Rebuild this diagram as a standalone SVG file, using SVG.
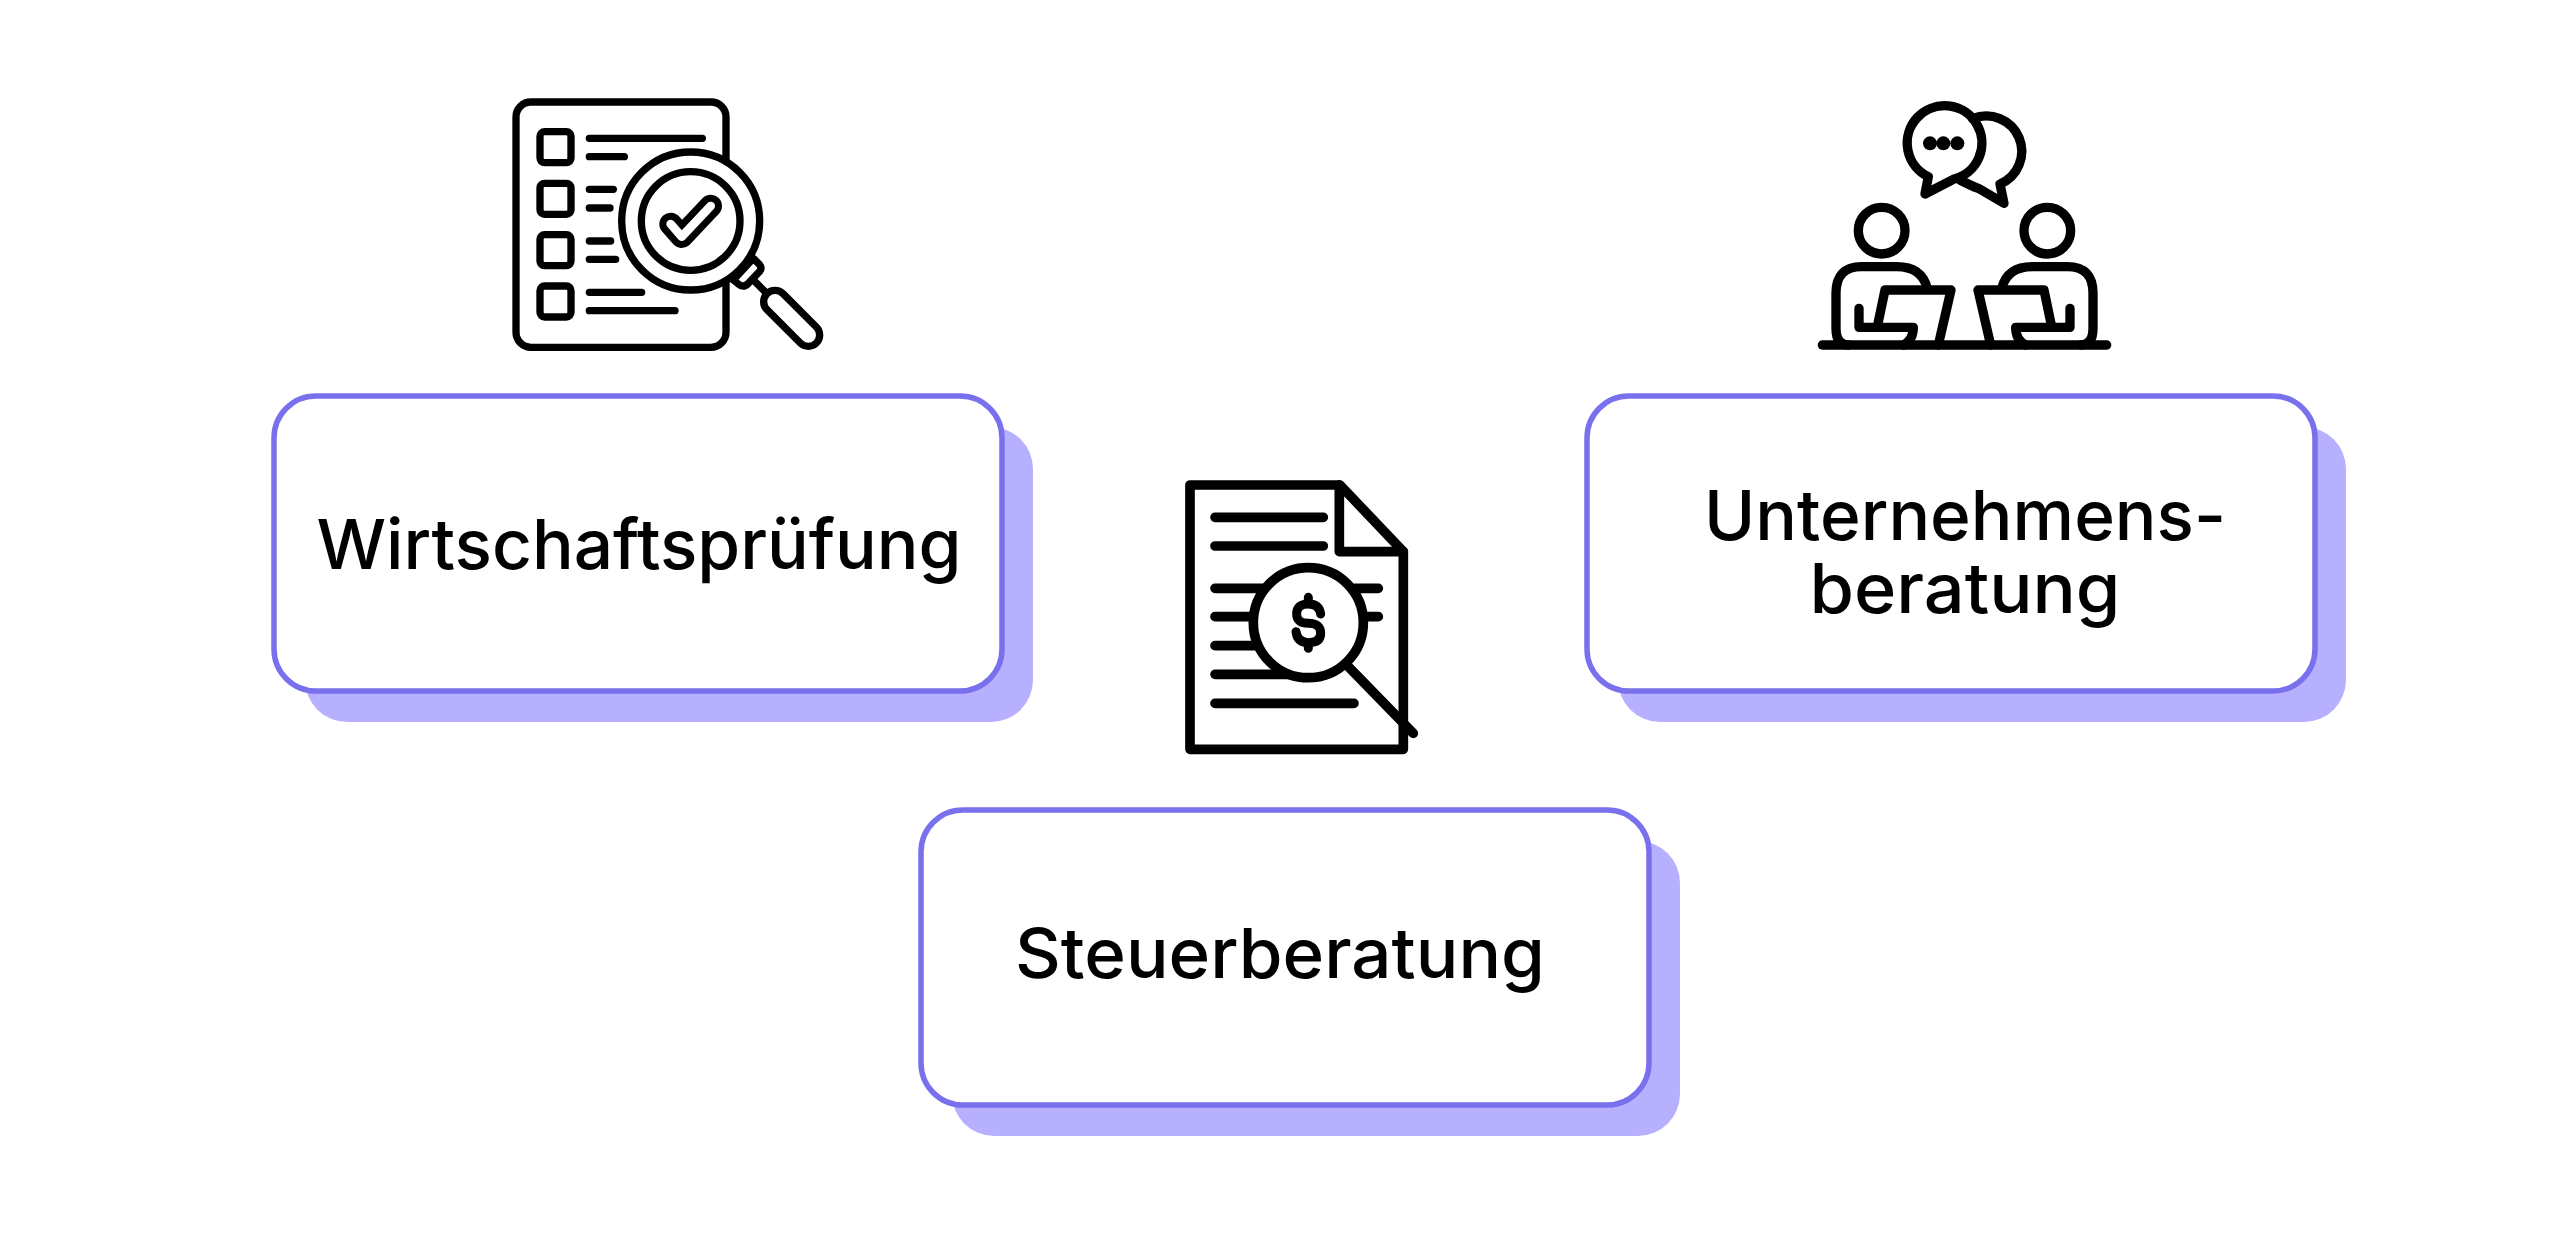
<svg xmlns="http://www.w3.org/2000/svg" width="2563" height="1234" viewBox="0 0 2563 1234">
<style>
.shadow{fill:#b6b0fe}
.card{fill:#fff;stroke:#7870ec;stroke-width:5.5}
.label{font-family:"Inter","Liberation Sans",sans-serif;font-size:69px;font-weight:500;fill:#000;text-anchor:middle}
.ic{fill:none;stroke:#000;stroke-linecap:round;stroke-linejoin:round}
.w{fill:#fff}
</style>
<rect width="2563" height="1234" fill="#fff"/>
<g id="node-wirtschaftspruefung">
<rect class="shadow" x="305" y="427" width="728" height="295" rx="42"/>
<rect class="card" x="274" y="396" width="728" height="295" rx="42"/>
<text class="label" x="639" y="569" textLength="645" lengthAdjust="spacingAndGlyphs">Wirtschaftsprüfung</text>
<g class="ic" stroke-width="22" transform="translate(480,80) scale(.33333)">
<rect x="108" y="66" width="630" height="736" rx="45"/>
<rect x="180" y="155" width="93" height="93" rx="14"/>
<rect x="180" y="310" width="93" height="93" rx="14"/>
<rect x="180" y="464" width="93" height="93" rx="14"/>
<rect x="180" y="618" width="93" height="93" rx="14"/>
<path d="M328 175H667M328 230H433M328 328H400M328 384H390M328 483H392M328 538H407M328 637H485M328 692H585"/>
<path class="w" d="M820 535L838 553Q848 565 838 575L805 610Q790 625 775 612L760 600Z"/>
<path d="M825 605L860 640"/>
<circle class="w" cx="632" cy="423" r="207"/>
<circle cx="632" cy="423" r="148"/>
<path d="M572 432L605 470L692 378" stroke-width="68"/>
<path d="M572 432L605 470L692 378" stroke="#fff" stroke-width="26"/>
<path d="M885 665L985 765" stroke-width="90"/>
<path d="M885 665L985 765" stroke="#fff" stroke-width="46"/>
</g>
</g>
<g id="node-steuerberatung">
<rect class="shadow" x="952" y="841" width="728" height="295" rx="42"/>
<rect class="card" x="921" y="810" width="728" height="295" rx="42"/>
<text class="label" x="1280" y="978" textLength="530" lengthAdjust="spacingAndGlyphs">Steuerberatung</text>
<g class="ic" stroke-width="29" transform="translate(1160,470) scale(.33333)">
<path d="M90 45H540L730 245V838H90Z"/>
<path d="M538 45V245H730"/>
<path d="M165 142H490M165 228H490M165 355H310M585 355H655M165 440H280M610 440H655M165 527H285M165 613H400M165 700H582"/>
<circle class="w" cx="445" cy="458" r="165"/>
<path d="M565 590L760 790"/>
<path stroke-width="27" d="M482 432Q478 402 445 402Q410 402 410 432Q410 460 445 460Q482 460 482 490Q482 518 445 518Q412 518 408 485M445 382V402M445 518V535"/>
</g>
</g>
<g id="node-unternehmensberatung">
<rect class="shadow" x="1618" y="427" width="728" height="295" rx="42"/>
<rect class="card" x="1587" y="396" width="728" height="295" rx="42"/>
<text class="label"><tspan x="1965" y="540" textLength="522" lengthAdjust="spacingAndGlyphs">Unternehmens-</tspan><tspan x="1965" y="613" textLength="311" lengthAdjust="spacingAndGlyphs">beratung</tspan></text>
<g class="ic" stroke-width="28" transform="translate(1790,80) scale(.33333)">
<defs><g id="person">
<circle cx="275" cy="452" r="70"/>
<path d="M412 625Q395 560 320 560H215Q138 560 138 640V745Q138 795 175 795"/>
<path d="M207 685V742H370Q370 780 340 795"/>
<path d="M262 740L285 630H483L445 795"/>
</g></defs>
<path d="M548 116A105 105 0 1 1 630 312L642 370L565 325Q545 318 510 300"/>
<path d="M415 290L405 342L490 298A112 112 0 1 0 415 290Z"/>
<circle cx="420" cy="190" r="21" fill="#000" stroke="none"/>
<circle cx="460" cy="190" r="21" fill="#000" stroke="none"/>
<circle cx="502" cy="190" r="21" fill="#000" stroke="none"/>
<use href="#person"/>
<use href="#person" transform="translate(1047,0) scale(-1,1)"/>
<path d="M97 795H950"/>
</g>
</g>
<g id="connectors"/>
</svg>
